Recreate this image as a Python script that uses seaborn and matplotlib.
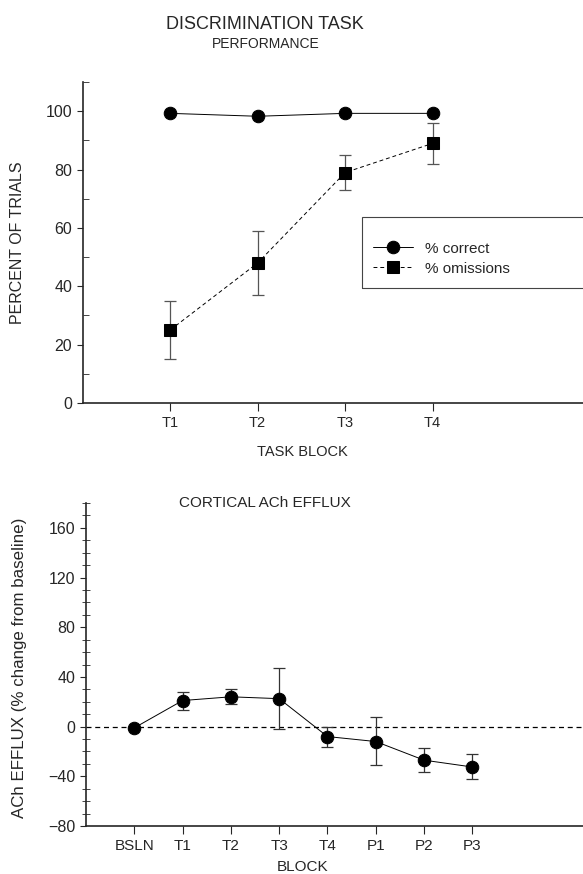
#!/usr/bin/env python3
"""
Discrimination task performance and cortical ACh efflux (two panels)
"""

import numpy as np
import pandas as pd
import matplotlib
matplotlib.use('Agg')
import matplotlib.pyplot as plt
import seaborn as sns
from matplotlib.ticker import MultipleLocator
from matplotlib.patches import Rectangle

# ---- Datos panel superior ----
task_blocks = ['T1', 'T2', 'T3', 'T4']
pct_correct = [99.3, 98.3, 99.3, 99.3]
pct_omissions = [25, 48, 79, 89]
omis_err_low = [15, 37, 73, 82]
omis_err_high = [35, 59, 85, 96]

# ---- Datos panel inferior ----
blocks = ['BSLN', 'T1', 'T2', 'T3', 'T4', 'P1', 'P2', 'P3']
ach_efflux = [-1, 21, 24, 22.5, -8, -12, -27, -32.5]
ach_err_low = [-1, 13.5, 18, -2, -16, -31, -36.5, -42.5]
ach_err_high = [-1, 28, 30.5, 47.5, 0, 8, -17.5, -22]

sns.set_style('ticks')
plt.rcParams['font.family'] = ['Liberation Sans', 'DejaVu Sans']

fig = plt.figure(figsize=(5.83, 8.74), dpi=100)

# ============ Panel superior ============
ax1 = fig.add_axes([0.142, 0.539, 0.858, 0.367])
x_task = np.arange(1, len(task_blocks) + 1)
df_top = pd.DataFrame({
    'pos': np.concatenate([x_task, x_task]),
    'value': pct_correct + pct_omissions,
    'serie': ['% correct'] * len(x_task) + ['% omissions'] * len(x_task),
})

# Barras de error de omisiones
yerr = [np.array(pct_omissions) - np.array(omis_err_low),
        np.array(omis_err_high) - np.array(pct_omissions)]
ax1.errorbar(x_task, pct_omissions, yerr=yerr, fmt='none', ecolor='#555555',
             elinewidth=0.9, capsize=4, capthick=0.9, zorder=1)

sns.lineplot(data=df_top, x='pos', y='value', hue='serie', style='serie',
             palette=['black', 'black'], markers={'% correct': 'o', '% omissions': 's'},
             dashes={'% correct': '', '% omissions': (4, 3)},
             markersize=9, markeredgecolor='black', linewidth=0.7,
             ax=ax1, zorder=3)

ax1.set_xlim(0, 5.72)
ax1.set_ylim(0, 110)
ax1.set_xticks(x_task)
ax1.set_xticklabels(task_blocks, fontsize=10.5)
ax1.yaxis.set_minor_locator(MultipleLocator(10))
ax1.set_yticks([0, 20, 40, 60, 80, 100])
ax1.tick_params(axis='y', which='major', direction='out', length=4, labelsize=11.5)
ax1.tick_params(axis='y', which='minor', direction='in', length=4)
ax1.tick_params(axis='x', direction='out', length=6, width=0.8)
ax1.set_xlabel('TASK BLOCK', fontsize=10.5)
ax1.xaxis.set_label_coords(0.438, -0.13)
ax1.set_ylabel('PERCENT OF TRIALS', fontsize=11.5)
ax1.yaxis.set_label_coords(-0.115, 0.5)
for s in ['top', 'right']:
    ax1.spines[s].set_visible(False)
for s in ['left', 'bottom']:
    ax1.spines[s].set_linewidth(1.2)

# Leyenda sin marco + caja recortada por el borde derecho
leg = ax1.legend(loc='upper left', bbox_to_anchor=(0.58, 0.503), fontsize=11,
                 frameon=False, handlelength=2.6, handletextpad=0.8,
                 borderpad=0, labelspacing=0.4, borderaxespad=0)
for line in leg.get_lines():
    line.set_markersize(9)
ax1.add_patch(Rectangle((0.558, 0.358), 0.5, 0.221, transform=ax1.transAxes,
                        fill=False, edgecolor='#444444', linewidth=0.8, clip_on=False))

fig.text(0.455, 0.972, 'DISCRIMINATION TASK', ha='center', va='center', fontsize=13)
fig.text(0.455, 0.950, 'PERFORMANCE', ha='center', va='center', fontsize=10)

# ============ Panel inferior ============
ax2 = fig.add_axes([0.1475, 0.0549, 0.8525, 0.3696])
x_blk = np.arange(1, len(blocks) + 1)
df_bot = pd.DataFrame({'pos': x_blk, 'value': ach_efflux})

ax2.axhline(0, color='black', linestyle=(0, (4, 3)), linewidth=0.9, zorder=0)

yerr2 = [np.array(ach_efflux) - np.array(ach_err_low),
         np.array(ach_err_high) - np.array(ach_efflux)]
ax2.errorbar(x_blk, ach_efflux, yerr=yerr2, fmt='none', ecolor='#333333',
             elinewidth=0.9, capsize=4, capthick=0.9, zorder=1)

sns.lineplot(data=df_bot, x='pos', y='value', color='black', marker='o',
             markersize=9, markeredgecolor='black', linewidth=0.7, ax=ax2, zorder=3)

ax2.set_xlim(0, 10.29)
ax2.set_ylim(-80, 180)
ax2.set_xticks(x_blk)
ax2.set_xticklabels(blocks, fontsize=11)
ax2.set_yticks([-80, -40, 0, 40, 80, 120, 160])
ax2.set_yticklabels(['\u221280', '\u221240', '0', '40', '80', '120', '160'])
ax2.yaxis.set_minor_locator(MultipleLocator(10))
ax2.tick_params(axis='y', which='major', direction='out', length=4, labelsize=11.5)
ax2.tick_params(axis='y', which='minor', direction='inout', length=6, width=0.6)
ax2.tick_params(axis='x', direction='out', length=6, width=0.8)
ax2.set_xlabel('BLOCK', fontsize=11)
ax2.xaxis.set_label_coords(0.436, -0.105)
ax2.set_ylabel('ACh EFFLUX (% change from baseline)', fontsize=12.2)
ax2.yaxis.set_label_coords(-0.118, 0.49)
ax2.text(0.36, 1.0, 'CORTICAL ACh EFFLUX', transform=ax2.transAxes,
         ha='center', va='center', fontsize=11)
for s in ['top', 'right']:
    ax2.spines[s].set_visible(False)
for s in ['left', 'bottom']:
    ax2.spines[s].set_linewidth(1.2)

plt.savefig('out.png', dpi=100)
